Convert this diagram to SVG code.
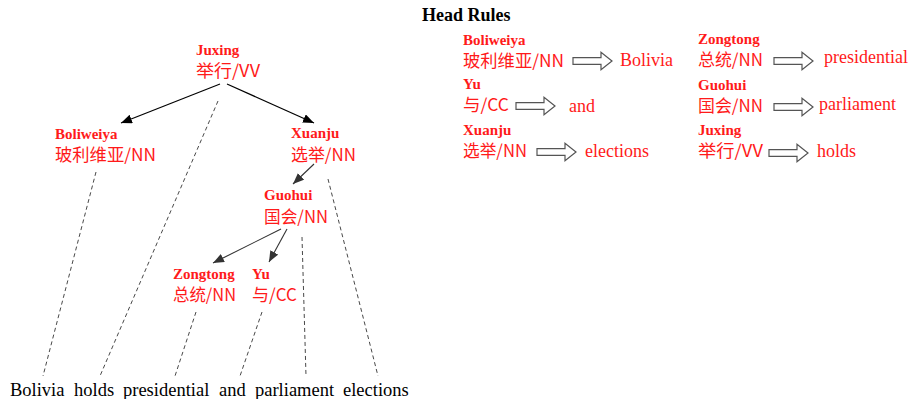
<svg xmlns="http://www.w3.org/2000/svg" width="912" height="399" viewBox="0 0 912 399">
<style>
.bg{fill:#fff}
.rom{font-family:"Liberation Serif","Times New Roman",serif;font-weight:bold;font-size:15px;fill:#ff1a1a}
.cjk{font-family:"Noto Sans CJK SC","Noto Sans CJK JP",sans-serif;font-size:17px;fill:#ff1a1a}
.eng{font-family:"Liberation Serif","Times New Roman",serif;font-size:18px;fill:#ff1a1a}
.word{font-family:"Liberation Serif","Times New Roman",serif;font-size:18.5px;fill:#000}
.title{font-family:"Liberation Serif","Times New Roman",serif;font-weight:bold;font-size:18px;fill:#000}
.edge{stroke:#000;stroke-width:1.2;fill:none}
.edge2{stroke:#333;stroke-width:1.1;fill:none}
.dash{stroke:#333;stroke-width:0.9;stroke-dasharray:4 3;fill:none}
.harrow{fill:#fff;stroke:#555;stroke-width:1.2}
</style>
<defs>
<marker id="ah" markerUnits="userSpaceOnUse" markerWidth="12" markerHeight="10" refX="11" refY="4.5" orient="auto">
<path d="M0,0 L11,4.5 L0,9 Z" fill="#000"/>
</marker>
<marker id="ah2" markerUnits="userSpaceOnUse" markerWidth="12" markerHeight="10" refX="11" refY="4.5" orient="auto">
<path d="M0,0 L11,4.5 L0,9 Z" fill="#333"/>
</marker>
<path id="harr" d="M0,-3.3 H28 V-8.7 L39,0 L28,8.7 V3.3 H0 Z"/>
</defs>
<rect class="bg" x="0" y="0" width="912" height="399"/>

<g id="connectors">
<line class="edge" x1="220" y1="84" x2="121" y2="123" marker-end="url(#ah)"/>
<line class="edge" x1="227" y1="84" x2="314" y2="123" marker-end="url(#ah)"/>
<line class="edge2" x1="314" y1="164" x2="293" y2="184" marker-end="url(#ah2)"/>
<line class="edge2" x1="281" y1="229" x2="213" y2="263" marker-end="url(#ah2)"/>
<line class="edge2" x1="287" y1="229" x2="269" y2="262" marker-end="url(#ah2)"/>
<line class="dash" x1="96" y1="172" x2="43" y2="376"/>
<line class="dash" x1="218" y1="101" x2="100" y2="376"/>
<line class="dash" x1="328" y1="179" x2="378" y2="376"/>
<line class="dash" x1="302" y1="237" x2="306" y2="376"/>
<line class="dash" x1="196" y1="312" x2="175" y2="376"/>
<line class="dash" x1="262" y1="312" x2="240" y2="376"/>
</g>

<g id="node-juxing">
<text class="rom" x="196" y="55">Juxing</text>
<text class="cjk" x="196" y="77" textLength="64" lengthAdjust="spacingAndGlyphs">举行/VV</text>
</g>
<g id="node-boliweiya">
<text class="rom" x="55" y="139">Boliweiya</text>
<text class="cjk" x="55" y="161" textLength="101" lengthAdjust="spacingAndGlyphs">玻利维亚/NN</text>
</g>
<g id="node-xuanju">
<text class="rom" x="291" y="138">Xuanju</text>
<text class="cjk" x="291" y="161" textLength="65" lengthAdjust="spacingAndGlyphs">选举/NN</text>
</g>
<g id="node-guohui">
<text class="rom" x="264" y="200">Guohui</text>
<text class="cjk" x="264" y="223" textLength="64" lengthAdjust="spacingAndGlyphs">国会/NN</text>
</g>
<g id="node-zongtong">
<text class="rom" x="173" y="279">Zongtong</text>
<text class="cjk" x="173" y="301" textLength="63" lengthAdjust="spacingAndGlyphs">总统/NN</text>
</g>
<g id="node-yu">
<text class="rom" x="252" y="279">Yu</text>
<text class="cjk" x="252" y="301" textLength="45" lengthAdjust="spacingAndGlyphs">与/CC</text>
</g>

<g id="sentence">
<text class="word" x="10" y="396">Bolivia</text>
<text class="word" x="74" y="396">holds</text>
<text class="word" x="123" y="396">presidential</text>
<text class="word" x="219" y="396">and</text>
<text class="word" x="255" y="396">parliament</text>
<text class="word" x="343" y="396">elections</text>
</g>

<g id="head-rules">
<text class="title" x="422" y="21">Head Rules</text>
<g id="rule-boliweiya">
<text class="rom" x="463" y="45">Boliweiya</text>
<text class="cjk" x="463" y="67" textLength="101" lengthAdjust="spacingAndGlyphs">玻利维亚/NN</text>
<use href="#harr" class="harrow" transform="translate(573,61)"/>
<text class="eng" x="620" y="66">Bolivia</text>
</g>
<g id="rule-yu">
<text class="rom" x="463" y="89">Yu</text>
<text class="cjk" x="463" y="111" textLength="46" lengthAdjust="spacingAndGlyphs">与/CC</text>
<use href="#harr" class="harrow" transform="translate(516,106)"/>
<text class="eng" x="569" y="112">and</text>
</g>
<g id="rule-xuanju">
<text class="rom" x="463" y="135">Xuanju</text>
<text class="cjk" x="463" y="157" textLength="64" lengthAdjust="spacingAndGlyphs">选举/NN</text>
<use href="#harr" class="harrow" transform="translate(537,152)"/>
<text class="eng" x="585" y="157">elections</text>
</g>
<g id="rule-zongtong">
<text class="rom" x="698" y="44">Zongtong</text>
<text class="cjk" x="698" y="66" textLength="65" lengthAdjust="spacingAndGlyphs">总统/NN</text>
<use href="#harr" class="harrow" transform="translate(774,61)"/>
<text class="eng" x="824" y="63">presidential</text>
</g>
<g id="rule-guohui">
<text class="rom" x="698" y="90">Guohui</text>
<text class="cjk" x="698" y="112" textLength="65" lengthAdjust="spacingAndGlyphs">国会/NN</text>
<use href="#harr" class="harrow" transform="translate(774,107)"/>
<text class="eng" x="819" y="110">parliament</text>
</g>
<g id="rule-juxing">
<text class="rom" x="698" y="135">Juxing</text>
<text class="cjk" x="698" y="157" textLength="65" lengthAdjust="spacingAndGlyphs">举行/VV</text>
<use href="#harr" class="harrow" transform="translate(769,153)"/>
<text class="eng" x="817" y="157">holds</text>
</g>
</g>
</svg>
